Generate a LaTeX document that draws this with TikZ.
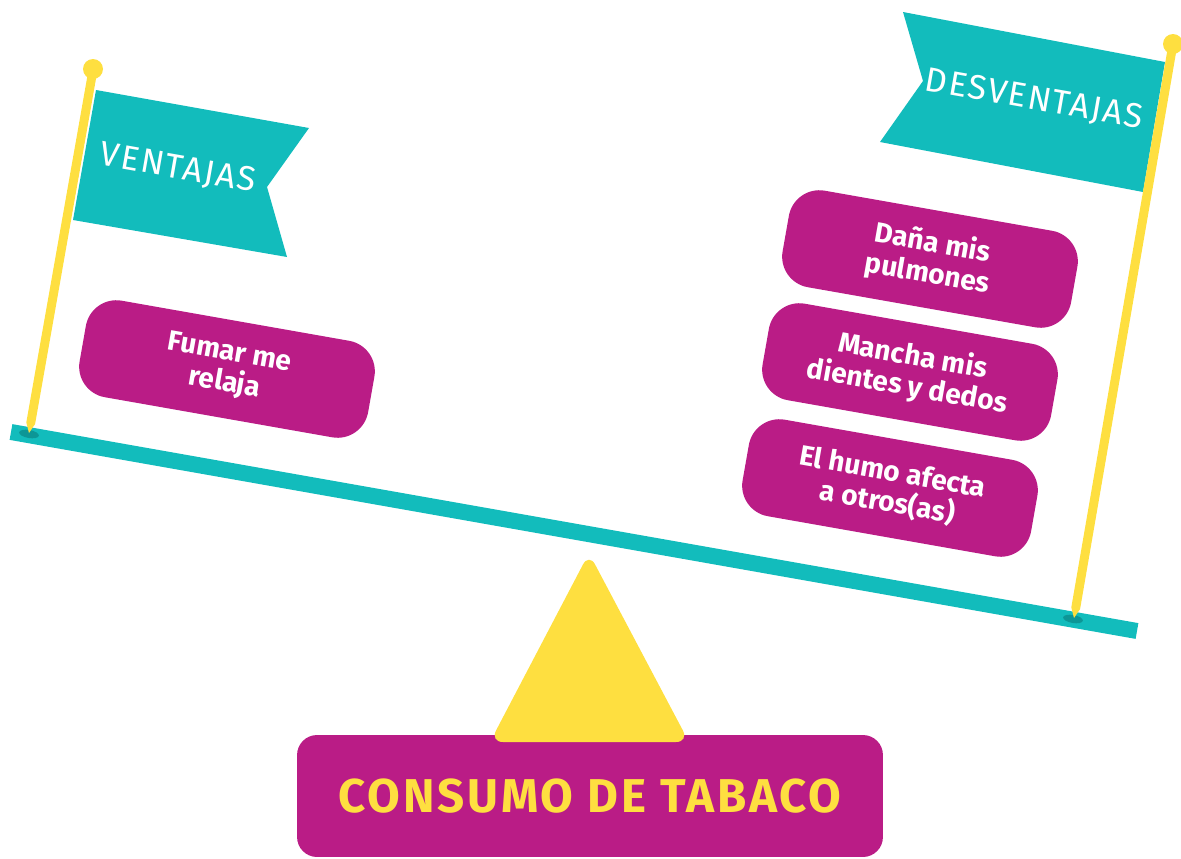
\documentclass[tikz,border=0pt]{standalone}
\usepackage{fontspec}
\setmainfont{Fira Sans}
\usepackage{tikz}

\definecolor{seesaw}{RGB}{18,188,188}
\definecolor{seesawdark}{RGB}{13,150,150}
\definecolor{pole}{RGB}{254,223,64}
\definecolor{reason}{RGB}{186,28,134}

\tikzset{
  argbox/.style={fill=reason, text=white, rounded corners=0.62cm,
    minimum width=5.86cm, minimum height=1.96cm, align=center, rotate=-10,
    font=\fontsize{16}{17.5}\selectfont\bfseries},
  flagtext/.style={text=white, rotate=-10,
    font=\fontsize{19.5}{21}\selectfont\addfontfeature{LetterSpace=5}}
}

\begin{document}
\begin{tikzpicture}[x=0.02cm, y=-0.02cm]

\useasboundingbox (0,0) rectangle (1181,859);

% beam of the seesaw
\path
(11,432) coordinate (beamL)
(1137,631) coordinate (beamR);
\draw[seesaw, line width=0.32cm]
(beamL) -- (beamR);

% shadows under the poles
\fill[seesawdark, rotate around={-10:(29,434)}] (29,434) ellipse [x radius=10, y radius=4];
\fill[seesawdark, rotate around={-10:(1073,619)}] (1073,619) ellipse [x radius=10, y radius=4];

% flags
\fill[seesaw]
(96,90) -- (309,128) -- (267,187) -- (287,257) -- (73,220) -- cycle;
\fill[seesaw]
(903,12) -- (1165,62) -- (1143,192) -- (880,142) -- (923,81) -- cycle;

% poles
\fill[pole]
(88.6,69.2) -- (26.3,422.4) -- (29,433) -- (35.1,424.0) -- (97.4,70.8) -- cycle;
\fill[pole] (93,69) circle [radius=10];
\fill[pole]
(1168.6,43.2) -- (1071.3,607.4) -- (1074,618) -- (1080.1,609.0) -- (1177.4,44.8) -- cycle;
\fill[pole] (1173,44) circle [radius=10];

\node[flagtext] (pros) at (178,169) {VENTAJAS};
\node[flagtext] (cons) at (1034,100) {DESVENTAJAS};

% reasons
\node[argbox] (relax) at (227,369) {Fumar me\\relaja};
\node[argbox] (lungs) at (930,259) {Daña mis\\pulmones};
\node[argbox] (teeth) at (910,372) {Mancha mis\\dientes y dedos};
\node[argbox] (smoke) at (890,488) {El humo afecta\\a otros(as)};

% base
\node[fill=reason, rounded corners=0.4cm, minimum width=11.72cm, minimum height=2.44cm,
  text=pole, font=\fontsize{27}{29}\selectfont\bfseries\addfontfeature{LetterSpace=6}] (topic) at (590,796) {CONSUMO DE TABACO};

% fulcrum
\fill[pole, rounded corners=0.26cm]
(589,553) -- (689,742) -- (490,742) -- cycle;

\end{tikzpicture}
\end{document}
